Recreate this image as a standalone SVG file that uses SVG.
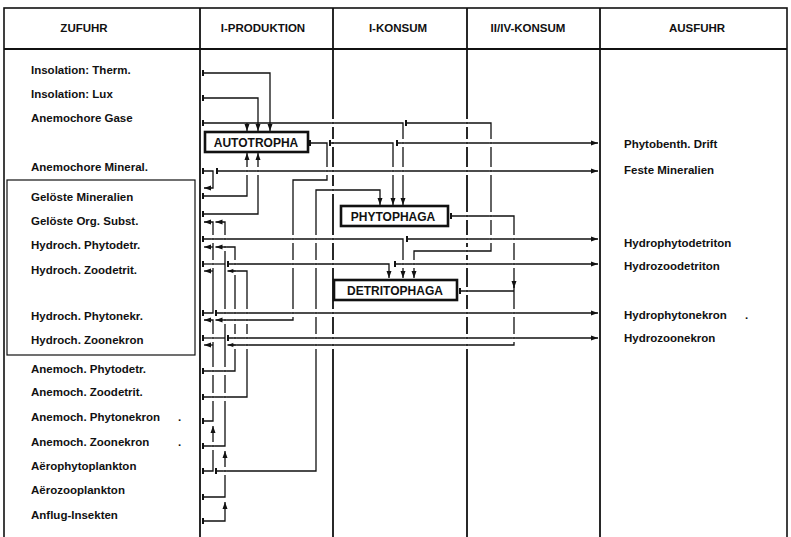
<svg xmlns="http://www.w3.org/2000/svg" xmlns:xlink="http://www.w3.org/1999/xlink" width="791" height="537" viewBox="0 0 791 537">
<style>
 text{font-family:"Liberation Sans",Arial,sans-serif;font-weight:bold;font-size:11.5px;fill:#111}
 .hd{text-anchor:middle}
 .bx text{text-anchor:middle;font-size:12px}
 .frame{fill:none;stroke:#111;stroke-width:1.6}
 .col{stroke:#111;stroke-width:1.8}
 .inner{fill:none;stroke:#111;stroke-width:1.2}
 .box{fill:#fff;stroke:#111;stroke-width:2.6}
 .c path{fill:none;stroke:#111;stroke-width:1.3}
 .a{marker-end:url(#ar)}
 .s{marker-start:url(#tk)}
</style>
<defs>
 <marker id="ar" markerUnits="userSpaceOnUse" markerWidth="8" markerHeight="8" viewBox="0 0 8 8" refX="7" refY="4" orient="auto"><path d="M0,1.5 L7,4 L0,6.5 z" fill="#111"/></marker>
 <marker id="tk" markerUnits="userSpaceOnUse" markerWidth="3" markerHeight="8" viewBox="0 0 3 8" refX="1" refY="4" orient="auto"><rect x="0" y="1" width="2" height="6" fill="#111"/></marker>
 <g id="gp" fill="#fff"><rect x="-1.7" y="-4" width="3.4" height="3.1"/><rect x="-1.7" y="0.9" width="3.4" height="3.1"/></g>
</defs>
<rect width="791" height="537" fill="#fff"/>
<g id="table">
 <rect class="frame" x="4" y="8" width="783" height="540"/>
 <line class="col" x1="4" y1="49" x2="787" y2="49"/>
 <line class="col" x1="200" y1="8" x2="200" y2="537"/>
 <line class="col" x1="333" y1="8" x2="333" y2="537"/>
 <line class="col" x1="467" y1="8" x2="467" y2="537"/>
 <line class="col" x1="600" y1="8" x2="600" y2="537"/>
 <rect class="inner" x="7" y="180" width="188" height="175"/>
 <text class="hd" x="84" y="32">ZUFUHR</text>
 <text class="hd" x="263" y="32">I-PRODUKTION</text>
 <text class="hd" x="398" y="32">I-KONSUM</text>
 <text class="hd" x="528" y="32">II/IV-KONSUM</text>
 <text class="hd" x="697" y="32">AUSFUHR</text>
</g>
<g id="connectors" class="c">
 <path class="s a" d="M203,73 H270 V131"/>
 <path class="s a" d="M203,98 H258 V131"/>
 <path class="s a" d="M203,123 H403 V205"/>
 <path class="a" d="M247,123 V131"/>
 <path class="s a" d="M406,123 H491 V251 H414 V278"/>
 <path class="s a" d="M203,171 H213 V188 H204"/>
 <path class="s a" d="M217,171 H598"/>
 <path class="s a" d="M203,196 H247 V153"/>
 <path class="s a" d="M203,214 H258 V153"/>
 <path class="s a" d="M203,313 H213 V222 H204"/>
 <path class="a" d="M213,247 H204"/>
 <path class="a" d="M213,271 H204"/>
 <path class="s a" d="M203,239 H403 V278"/>
 <path class="s a" d="M407,239 H598"/>
 <path class="s a" d="M203,446 H225 V222 H215.5"/>
 <path class="s" d="M203,264 H225"/>
 <path class="s" d="M203,338 H225"/>
 <path class="s a" d="M228,264 H389 V278"/>
 <path class="s a" d="M395,264 H598"/>
 <path class="s a" d="M203,371 H235 V247 H215.5"/>
 <path class="s a" d="M203,397 H247 V271 H227.5"/>
 <path class="s a" d="M216,313 H598"/>
 <path class="s a" d="M310,143 H327 V180 H293 V320 H215.5"/>
 <path class="s a" d="M330,143 H393 V205"/>
 <path class="s a" d="M397,143 H598"/>
 <path class="s a" d="M228,338 H598"/>
 <path class="s a" d="M451,216 H514 V288"/>
 <path class="a" d="M514,286 V345 H227.5"/>
 <path class="s" d="M460,291 H514"/>
 <path class="s a" d="M203,421 H213 V320 H204"/>
 <path class="a" d="M213,345 H204"/>
 <path class="s a" d="M203,471 H213 V426"/>
 <path class="s a" d="M216,471 H316 V190 H380 V205"/>
 <path class="s a" d="M203,497 H225 V451"/>
 <path class="s a" d="M203,521 H225 V502"/>
</g>
<g id="crossings">
 <use xlink:href="#gp" x="333" y="123"/><use xlink:href="#gp" x="333" y="143"/><use xlink:href="#gp" x="333" y="171"/><use xlink:href="#gp" x="333" y="190"/><use xlink:href="#gp" x="333" y="239"/><use xlink:href="#gp" x="333" y="264"/><use xlink:href="#gp" x="333" y="313"/><use xlink:href="#gp" x="333" y="338"/><use xlink:href="#gp" x="333" y="345"/>
 <use xlink:href="#gp" x="467" y="123"/><use xlink:href="#gp" x="467" y="143"/><use xlink:href="#gp" x="467" y="171"/><use xlink:href="#gp" x="467" y="216"/><use xlink:href="#gp" x="467" y="239"/><use xlink:href="#gp" x="467" y="251"/><use xlink:href="#gp" x="467" y="264"/><use xlink:href="#gp" x="467" y="291"/><use xlink:href="#gp" x="467" y="313"/><use xlink:href="#gp" x="467" y="338"/><use xlink:href="#gp" x="467" y="345"/>
 <use xlink:href="#gp" x="247" y="171"/><use xlink:href="#gp" x="258" y="171"/>
 <use xlink:href="#gp" x="213" y="239"/><use xlink:href="#gp" x="213" y="264"/>
 <use xlink:href="#gp" x="225" y="239"/><use xlink:href="#gp" x="225" y="247"/><use xlink:href="#gp" x="225" y="313"/><use xlink:href="#gp" x="225" y="320"/><use xlink:href="#gp" x="225" y="371"/><use xlink:href="#gp" x="225" y="397"/>
 <use xlink:href="#gp" x="213" y="338"/><use xlink:href="#gp" x="213" y="371"/><use xlink:href="#gp" x="213" y="397"/><use xlink:href="#gp" x="213" y="446"/>
 <use xlink:href="#gp" x="225" y="471"/>
 <use xlink:href="#gp" x="235" y="264"/><use xlink:href="#gp" x="235" y="271"/><use xlink:href="#gp" x="235" y="313"/><use xlink:href="#gp" x="235" y="320"/><use xlink:href="#gp" x="235" y="338"/><use xlink:href="#gp" x="235" y="345"/>
 <use xlink:href="#gp" x="247" y="313"/><use xlink:href="#gp" x="247" y="320"/><use xlink:href="#gp" x="247" y="338"/><use xlink:href="#gp" x="247" y="345"/>
 <use xlink:href="#gp" x="293" y="239"/><use xlink:href="#gp" x="293" y="264"/><use xlink:href="#gp" x="293" y="313"/>
 <use xlink:href="#gp" x="316" y="239"/><use xlink:href="#gp" x="316" y="264"/><use xlink:href="#gp" x="316" y="313"/><use xlink:href="#gp" x="316" y="338"/><use xlink:href="#gp" x="316" y="345"/>
 <use xlink:href="#gp" x="327" y="171"/>
 <use xlink:href="#gp" x="403" y="143"/><use xlink:href="#gp" x="403" y="171"/><use xlink:href="#gp" x="393" y="171"/>
 <use xlink:href="#gp" x="403" y="264"/><use xlink:href="#gp" x="414" y="264"/>
 <use xlink:href="#gp" x="491" y="143"/><use xlink:href="#gp" x="491" y="171"/><use xlink:href="#gp" x="491" y="216"/><use xlink:href="#gp" x="491" y="239"/>
 <use xlink:href="#gp" x="514" y="239"/><use xlink:href="#gp" x="514" y="264"/><use xlink:href="#gp" x="514" y="313"/><use xlink:href="#gp" x="514" y="338"/>
</g>
<g id="autotropha" class="bx"><rect class="box" x="205" y="132" width="103" height="20"/><text x="256" y="146.5">AUTOTROPHA</text></g>
<g id="phytophaga" class="bx"><rect class="box" x="341" y="206" width="107" height="20"/><text x="393" y="220.5">PHYTOPHAGA</text></g>
<g id="detritophaga" class="bx"><rect class="box" x="334" y="280" width="123" height="20"/><text x="395" y="294.5">DETRITOPHAGA</text></g>
<g id="zufuhr">
 <g id="z1"><text x="31" y="74">Insolation: Therm.</text></g>
 <g id="z2"><text x="31" y="98">Insolation: Lux</text></g>
 <g id="z3"><text x="31" y="122">Anemochore Gase</text></g>
 <g id="z4"><text x="31" y="171">Anemochore Mineral.</text></g>
 <g id="z5"><text x="31" y="201">Gelöste Mineralien</text></g>
 <g id="z6"><text x="31" y="225">Gelöste Org. Subst.</text></g>
 <g id="z7"><text x="31" y="249">Hydroch. Phytodetr.</text></g>
 <g id="z8"><text x="31" y="274">Hydroch. Zoodetrit.</text></g>
 <g id="z9"><text x="31" y="320">Hydroch. Phytonekr.</text></g>
 <g id="z10"><text x="31" y="344">Hydroch. Zoonekron</text></g>
 <g id="z11"><text x="31" y="373">Anemoch. Phytodetr.</text></g>
 <g id="z12"><text x="31" y="396">Anemoch. Zoodetrit.</text></g>
 <g id="z13"><text x="31" y="421">Anemoch. Phytonekron</text><text x="178" y="421">.</text></g>
 <g id="z14"><text x="31" y="446">Anemoch. Zoonekron</text><text x="178" y="446">.</text></g>
 <g id="z15"><text x="31" y="470">Aërophytoplankton</text></g>
 <g id="z16"><text x="31" y="494">Aërozooplankton</text></g>
 <g id="z17"><text x="31" y="519">Anflug-Insekten</text></g>
</g>
<g id="ausfuhr">
 <g id="o1"><text x="624" y="148">Phytobenth. Drift</text></g>
 <g id="o2"><text x="624" y="174">Feste Mineralien</text></g>
 <g id="o3"><text x="624" y="247">Hydrophytodetriton</text></g>
 <g id="o4"><text x="624" y="270">Hydrozoodetriton</text></g>
 <g id="o5"><text x="624" y="319">Hydrophytonekron</text><text x="745" y="319">.</text></g>
 <g id="o6"><text x="624" y="342">Hydrozoonekron</text></g>
</g>
</svg>
